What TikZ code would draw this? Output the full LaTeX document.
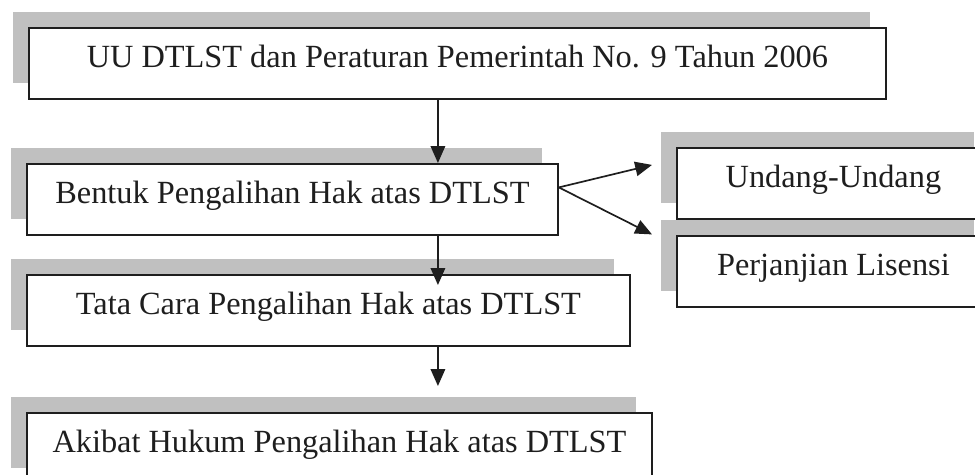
\documentclass[tikz,border=0pt]{standalone}
\usepackage{fontspec}
\setmainfont{Liberation Serif}
\usetikzlibrary{arrows.meta,calc,positioning,shadows}
\definecolor{shade}{HTML}{C0C0C0}
\definecolor{ink}{HTML}{1E1E1E}

\begin{document}
\begin{tikzpicture}[>={Triangle[length=0.42cm,width=0.36cm]},
  box/.style={draw=ink,line width=1.3pt,fill=white,anchor=north west,minimum height=1.775cm,inner sep=0pt,text height=0.6cm,text depth=0.375cm,text=ink,font=\fontsize{23pt}{27pt}\selectfont,drop shadow={shadow xshift=-0.4cm,shadow yshift=0.4cm,fill=shade,opacity=1}},
  link/.style={->,line width=1.2pt,draw=ink,fill=ink}]
\useasboundingbox (0,0) rectangle (24.375,-11.875);
\clip (0,0) rectangle (24.375,-11.875);
\node[box,minimum width=21.425cm] (a) at (0.7,-0.675) {UU DTLST dan Peraturan Pemerintah No. 9 Tahun 2006};
\node[box,minimum width=13.275cm] (b) at (0.65,-4.075) {Bentuk Pengalihan Hak atas DTLST};
\node[box,minimum width=15.075cm] (c) at (0.65,-6.85) {Tata Cara Pengalihan Hak atas DTLST};
\node[box,minimum width=15.625cm] (d) at (0.65,-10.3) {Akibat Hukum Pengalihan Hak atas DTLST};
\node[box,minimum width=7.825cm] (u) at (16.9,-3.675) {Undang-Undang};
\node[box,minimum width=7.825cm] (p) at (16.9,-5.875) {Perjanjian Lisensi};
\draw[link] ([xshift=-0.4875cm]a.south) -- ([xshift=-0.4875cm]a.south |- b.north);
\draw[link] ([xshift=-0.4875cm]a.south |- b.south) -- ([xshift=-0.4875cm,yshift=-0.275cm]a.south |- c.north);
\draw[link] ([xshift=-0.4875cm]a.south |- c.south) -- ([xshift=-0.4875cm,yshift=0.65cm]a.south |- d.north);
\draw[link] ([yshift=0.3cm]b.east) -- ([xshift=-0.6cm,yshift=0.4625cm]u.west);
\draw[link] ([yshift=0.3cm]b.east) -- ([xshift=-0.6cm,yshift=0.925cm]p.west);
\end{tikzpicture}
\end{document}
